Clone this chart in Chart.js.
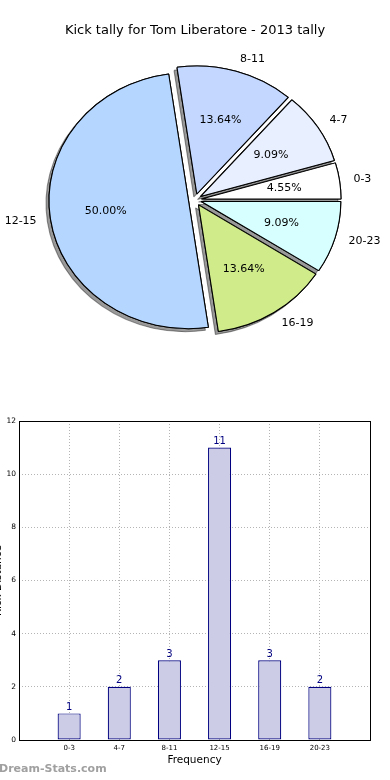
<!DOCTYPE html>
<html>
<head>
<meta charset="utf-8">
<script src="https://cdn.jsdelivr.net/npm/chart.js@4.4.1/dist/chart.umd.min.js"></script>
<style>
  html, body { margin: 0; padding: 0; background: #fff; }
  body { position: relative; width: 390px; height: 780px; overflow: hidden; font-family: "DejaVu Sans", sans-serif; }
  #pieChart { position: absolute; left: 0; top: 0; }
  #barChart { position: absolute; left: -8px; top: 400px; }
  #mark { position: absolute; left: -1px; top: 762px; font-size: 11px; font-weight: bold; color: #a0a0a0; }
</style>
</head>
<body>
<canvas id="pieChart" width="390" height="400"></canvas>
<canvas id="barChart" width="398" height="380"></canvas>
<div id="mark">Dream-Stats.com</div>
<script>
// data
const categories = ['0-3', '4-7', '8-11', '12-15', '16-19', '20-23'];
const kicks = [1, 2, 3, 11, 3, 2];
const sliceColors = ['#ffffff', '#e8f0ff', '#c4d8ff', '#b4d6ff', '#d0ec8a', '#d8ffff'];
const yTicks = [0, 2, 4, 6, 8, 10, 12];

const FONT = '"DejaVu Sans"';
const explode = 6;      // px each wedge is pulled out
const stretchX = 1.09;  // the original pie is a bit wider than tall

// matplotlib goes counter-clockwise from 3 o'clock, chart.js clockwise -> reverse
const pieLabels = categories.slice().reverse();
const pieValues = kicks.slice().reverse();
const pieColors = sliceColors.slice().reverse();

const pieStyle = {
    id: 'pieStyle',
    beforeDatasetsDraw(chart) {
        const ctx = chart.ctx;
        const arcs = chart.getDatasetMeta(0).data;
        const cx = arcs[0].x, cy = arcs[0].y;
        ctx.save();
        ctx.translate(cx, cy);
        ctx.scale(stretchX, 1);
        ctx.translate(-cx, -cy);
        // all shadows first, then wedges on top of them
        ['shadow', 'wedge'].forEach(pass => {
            arcs.forEach(arc => {
                const mid = (arc.startAngle + arc.endAngle) / 2;
                ctx.save();
                if (pass === 'shadow') {
                    ctx.shadowColor = 'rgba(0,0,0,0.4)';
                    ctx.shadowOffsetX = -3;
                    ctx.shadowOffsetY = 3;
                }
                ctx.translate(Math.cos(mid) * explode, Math.sin(mid) * explode);
                arc.draw(ctx);
                ctx.restore();
            });
        });
        ctx.restore();
        return false;
    },
    afterDraw(chart) {
        const ctx = chart.ctx;
        const arcs = chart.getDatasetMeta(0).data;
        const values = chart.data.datasets[0].data;
        const total = values.reduce((a, b) => a + b, 0);
        ctx.save();
        ctx.font = '11px ' + FONT;
        ctx.fillStyle = '#000';
        ctx.textBaseline = 'middle';
        arcs.forEach((arc, i) => {
            const mid = (arc.startAngle + arc.endAngle) / 2;
            const c = Math.cos(mid), s = Math.sin(mid);
            const r = arc.outerRadius;
            const ex = arc.x + stretchX * c * explode;
            const ey = arc.y + s * explode;
            ctx.textAlign = c >= 0 ? 'left' : 'right';
            ctx.fillText(chart.data.labels[i], ex + stretchX * 1.1 * r * c, ey + 1.1 * r * s);
            ctx.textAlign = 'center';
            ctx.fillText((values[i] / total * 100).toFixed(2) + '%', ex + stretchX * 0.6 * r * c, ey + 0.6 * r * s);
        });
        ctx.restore();
    }
};

new Chart(document.getElementById('pieChart'), {
    type: 'pie',
    data: {
        labels: pieLabels,
        datasets: [{
            data: pieValues,
            backgroundColor: pieColors,
            borderColor: '#000',
            borderWidth: 1
        }]
    },
    options: {
        responsive: false,
        animation: false,
        rotation: 90,
        radius: 128,
        layout: { padding: { top: 0, bottom: 39, left: 0, right: 0 } },
        plugins: {
            legend: { display: false },
            tooltip: { enabled: false },
            title: {
                display: true,
                text: 'Kick tally for Tom Liberatore - 2013 tally',
                color: '#000',
                font: { family: FONT, size: 13, weight: 'normal' },
                padding: { top: 23, bottom: 0 }
            }
        }
    },
    plugins: [pieStyle]
});

// bar chart
const gridColor = '#b4b4b4';
const barExtras = {
    id: 'barExtras',
    afterDraw(chart) {
        const ctx = chart.ctx;
        const a = chart.chartArea;
        ctx.save();
        ctx.strokeStyle = '#000';
        ctx.lineWidth = 1;
        ctx.strokeRect(Math.round(a.left) + 0.5, Math.round(a.top) + 0.5,
            Math.round(a.right - a.left), Math.round(a.bottom - a.top));
        // counts above bars
        ctx.fillStyle = '#000080';
        ctx.font = '10px ' + FONT;
        ctx.textAlign = 'center';
        ctx.textBaseline = 'bottom';
        chart.getDatasetMeta(0).data.forEach((bar, i) => {
            ctx.fillText(String(kicks[i]), bar.x, bar.y - 1);
        });
        ctx.restore();
    }
};

new Chart(document.getElementById('barChart'), {
    type: 'bar',
    data: {
        datasets: [{
            data: categories.map((c, i) => ({ x: i + 1, y: kicks[i] })),
            backgroundColor: '#ccccE6',
            borderColor: '#000080',
            borderWidth: 1.2,
            borderSkipped: false,
            barPercentage: 0.46,
            categoryPercentage: 1
        }]
    },
    options: {
        responsive: false,
        animation: false,
        layout: { padding: { top: 21, right: 20, bottom: 12, left: 0 } },
        plugins: { legend: { display: false }, tooltip: { enabled: false } },
        scales: {
            x: {
                type: 'linear',
                min: 0,
                max: 7,
                offset: false,
                z: 1,
                afterFit(scale) { scale.height = 28; },
                grid: { offset: false, color: gridColor, drawTicks: false },
                border: { display: false, dash: [1, 2] },
                ticks: {
                    stepSize: 1,
                    autoSkip: false,
                    maxRotation: 0,
                    padding: 4,
                    color: '#000',
                    font: { family: FONT, size: 7 },
                    callback: v => categories[v - 1] ?? ''
                },
                title: {
                    display: true,
                    text: 'Frequency',
                    color: '#000',
                    font: { family: FONT, size: 10.5 },
                    padding: { top: 0, bottom: 1 }
                }
            },
            y: {
                min: 0,
                max: 12,
                z: 1,
                afterFit(scale) { scale.width = 27; },
                afterBuildTicks(scale) { scale.ticks = yTicks.map(v => ({ value: v })); },
                grid: { color: gridColor, drawTicks: false },
                border: { display: false, dash: [1, 2] },
                ticks: { padding: 3, color: '#000', font: { family: FONT, size: 7.5 } },
                title: {
                    display: true,
                    text: 'Kick Distance',
                    color: '#000',
                    font: { family: FONT, size: 10.5 },
                    padding: 0
                }
            }
        }
    },
    plugins: [barExtras]
});
</script>
</body>
</html>
